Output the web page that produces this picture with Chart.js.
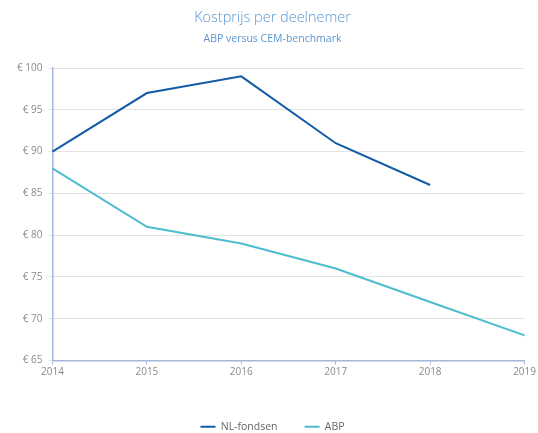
<!DOCTYPE html>
<html>
<head>
<meta charset="utf-8">
<script src="https://cdn.jsdelivr.net/npm/chart.js@4"></script>
<style>
  html, body { margin: 0; padding: 0; background: #fff; }
  #wrap { width: 538px; height: 433px; }
</style>
</head>
<body>
<div id="wrap"><canvas id="kostChart"></canvas></div>
<script>
// Chart data
const years = ['2014', '2015', '2016', '2017', '2018', '2019'];
const nlFondsen = [90, 97, 99, 91, 86, null];
const abp = [88, 81, 79, 76, 72, 68];

const axisBlue = '#a3b6dc';
const gridGrey = '#e3e3e3';
const labelGrey = '#8a8a8a';

Chart.defaults.font.family = '"Open Sans", sans-serif';

const ctx = document.getElementById('kostChart').getContext('2d');
new Chart(ctx, {
    type: 'line',
    data: {
        labels: years,
        datasets: [
            {
                label: 'NL-fondsen',
                data: nlFondsen,
                borderColor: '#135ba6',
                backgroundColor: '#135ba6',
                borderWidth: 2,
                pointRadius: 0,
                tension: 0,
                spanGaps: false
            },
            {
                label: 'ABP',
                data: abp,
                borderColor: '#4cbdcf',
                backgroundColor: '#4cbdcf',
                borderWidth: 2,
                pointRadius: 0,
                tension: 0
            }
        ]
    },
    options: {
        responsive: true,
        maintainAspectRatio: false,
        animation: false,
        layout: {
            padding: { left: 11, right: 4, top: 9, bottom: -9 }
        },
        plugins: {
            title: {
                display: true,
                text: 'Kostprijs per deelnemer',
                color: '#5b96d2',
                font: { size: 14.5, weight: 300 },
                padding: { top: 0, bottom: 6 }
            },
            subtitle: {
                display: true,
                text: 'ABP versus CEM-benchmark',
                color: '#5b96d2',
                font: { size: 10.5, weight: 400 },
                padding: { top: 0, bottom: 23 }
            },
            legend: {
                position: 'bottom',
                labels: {
                    usePointStyle: true,
                    pointStyle: 'line',
                    pointStyleWidth: 15,
                    boxWidth: 15,
                    color: '#666',
                    font: { size: 10.5 },
                    padding: 27
                }
            },
            tooltip: { enabled: false }
        },
        scales: {
            x: {
                offset: false,
                // extra room between the year labels and the legend
                afterFit: (scale) => { scale.height += 14; },
                grid: {
                    display: true,
                    drawOnChartArea: false,
                    drawTicks: true,
                    tickLength: 4,
                    color: axisBlue
                },
                border: { color: axisBlue, width: 1.5 },
                ticks: {
                    color: labelGrey,
                    font: { size: 10 },
                    padding: 2,
                    maxRotation: 0
                }
            },
            y: {
                min: 65,
                max: 100,
                grid: {
                    color: gridGrey,
                    tickLength: 4
                },
                border: { color: axisBlue, width: 1.5 },
                ticks: {
                    stepSize: 5,
                    color: labelGrey,
                    font: { size: 10 },
                    padding: 6,
                    callback: (value) => '€ ' + value
                }
            }
        }
    }
});
</script>
</body>
</html>
